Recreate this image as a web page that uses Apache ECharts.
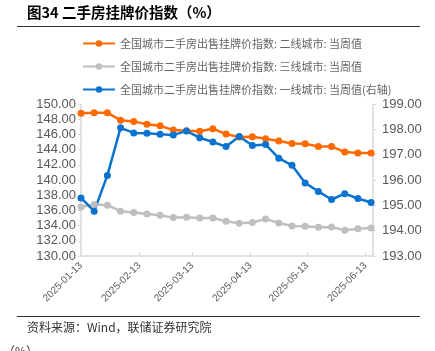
<!DOCTYPE html>
<html>
<head>
<meta charset="utf-8">
<script src="https://cdn.jsdelivr.net/npm/echarts@6/dist/echarts.min.js"></script>
<style>
  html, body { margin: 0; padding: 0; background: #fff; }
  #chart { width: 435px; height: 351px; }
</style>
</head>
<body>
<div id="chart"></div>
<script>
var dates = ['2025-01-13','2025-01-20','2025-01-27','2025-02-03','2025-02-10','2025-02-17','2025-02-24','2025-03-03',
  '2025-03-10','2025-03-17','2025-03-24','2025-03-31','2025-04-07','2025-04-14','2025-04-21','2025-04-28',
  '2025-05-05','2025-05-12','2025-05-19','2025-05-26','2025-06-02','2025-06-09','2025-06-16'];
var tier2 = [148.77,148.86,148.86,147.85,147.71,147.32,147.14,146.57,146.48,146.42,146.75,146.04,
  145.65,145.69,145.43,145.12,144.81,144.77,144.42,144.42,143.67,143.54,143.54];
var tier3 = [136.46,136.77,136.68,135.89,135.71,135.54,135.36,135.05,135.10,135.01,134.99,134.57,
  134.31,134.40,134.88,134.35,133.96,133.91,133.78,133.82,133.38,133.60,133.69];
var tier1 = [195.29,194.77,196.18,198.06,197.86,197.85,197.81,197.78,197.93,197.67,197.50,197.32,
  197.72,197.36,197.40,196.86,196.58,195.88,195.55,195.23,195.46,195.27,195.11];
var tickDates = ['2025-01-13','2025-02-13','2025-03-13','2025-04-13','2025-05-13','2025-06-13'];
var names = ['全国城市二手房出售挂牌价指数: 二线城市: 当周值',
  '全国城市二手房出售挂牌价指数: 三线城市: 当周值',
  '全国城市二手房出售挂牌价指数: 一线城市: 当周值(右轴)'];

// dates are placed on a linear day scale (Date.UTC keeps it free of DST shifts)
function ts(s) { var p = s.split('-'); return Date.UTC(+p[0], +p[1] - 1, +p[2]); }
function pairs(vals) { return dates.map(function(d, i) { return [ts(d), vals[i]]; }); }
function pad(n) { return n < 10 ? '0' + n : '' + n; }

var axisGray = '#d9d9d9';
var labelGray = '#595959';
var cjk = '"Noto Sans CJK SC", sans-serif';
var tickVals = tickDates.map(ts);

var chart = echarts.init(document.getElementById('chart'), null, { renderer: 'canvas' });
chart.setOption({
  animation: false,
  grid: { left: 81, right: 62, top: 104, bottom: 95, containLabel: false },
  legend: {
    orient: 'vertical',
    left: 77,
    top: 33,
    itemWidth: 32,
    itemHeight: 8,
    itemGap: 12,
    textStyle: { color: '#666', fontSize: 11, fontFamily: cjk },
    data: [names[0], names[1], names[2]]
  },
  graphic: [
    { type: 'text', left: 27, top: 5, style: { text: '图34 二手房挂牌价指数（%）', fill: '#000', font: 'bold 14.5px "Noto Sans CJK SC"' } },
    { type: 'line', shape: { x1: 17, y1: 26.5, x2: 420, y2: 26.5 }, style: { stroke: '#333', lineWidth: 1 } },
    { type: 'line', shape: { x1: 17, y1: 316.5, x2: 420, y2: 316.5 }, style: { stroke: '#333', lineWidth: 1 } },
    { type: 'text', left: 27, top: 321, style: { text: '资料来源：Wind，联储证券研究院', fill: '#333', font: '12px "Noto Sans CJK SC"' } },
    { type: 'text', left: 3, top: 345, style: { text: '（%）', fill: '#333', font: '12px "Noto Sans CJK SC"' } }
  ],
  xAxis: {
    type: 'value',
    min: ts('2025-01-13'),
    max: ts('2025-06-17'),
    splitLine: { show: false },
    axisLine: { lineStyle: { color: axisGray, width: 1.5 } },
    axisTick: { inside: true, length: 4, lineStyle: { color: axisGray }, customValues: tickVals },
    axisLabel: {
      rotate: 45,
      fontSize: 10,
      color: labelGray,
      fontFamily: 'Liberation Sans, Arial, sans-serif',
      customValues: tickVals,
      formatter: function(v) { var d = new Date(v); return d.getUTCFullYear() + '-' + pad(d.getUTCMonth() + 1) + '-' + pad(d.getUTCDate()); }
    }
  },
  yAxis: [
    {
      type: 'value', min: 130, max: 150, interval: 2,
      splitLine: { show: false },
      axisLine: { show: true, lineStyle: { color: axisGray, width: 1.5 } },
      axisTick: { show: true, length: 3, lineStyle: { color: axisGray } },
      axisLabel: { color: labelGray, fontSize: 13, margin: 5, fontFamily: 'Liberation Sans, Arial, sans-serif', formatter: function(v) { return v.toFixed(2); } }
    },
    {
      type: 'value', min: 193, max: 199, interval: 1,
      splitLine: { show: false },
      axisLine: { show: true, lineStyle: { color: axisGray, width: 1.5 } },
      axisTick: { show: true, length: 3, lineStyle: { color: axisGray } },
      axisLabel: { color: labelGray, fontSize: 13, margin: 9, fontFamily: 'Liberation Sans, Arial, sans-serif', formatter: function(v) { return v.toFixed(2); } }
    }
  ],
  series: [
    {
      name: names[0], type: 'line', yAxisIndex: 0, data: pairs(tier2),
      symbol: 'circle', symbolSize: 7,
      lineStyle: { color: '#ff6a00', width: 2.5 }, itemStyle: { color: '#ff6a00' }
    },
    {
      name: names[1], type: 'line', yAxisIndex: 0, data: pairs(tier3),
      symbol: 'circle', symbolSize: 7,
      lineStyle: { color: '#bfbfbf', width: 2.5 }, itemStyle: { color: '#bfbfbf' }
    },
    {
      name: names[2], type: 'line', yAxisIndex: 1, data: pairs(tier1),
      symbol: 'circle', symbolSize: 7,
      lineStyle: { color: '#0a72cf', width: 2.5 }, itemStyle: { color: '#0a72cf' }
    }
  ]
});
</script>
</body>
</html>
